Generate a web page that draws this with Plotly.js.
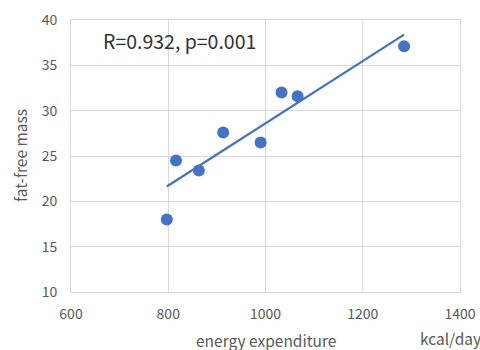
<!DOCTYPE html>
<html>
<head>
<meta charset="utf-8">
<script src="https://cdn.plot.ly/plotly-3.0.1.min.js"></script>
<style>html,body{margin:0;padding:0;background:#fff}#chart{width:480px;height:350px}</style>
</head>
<body>
<div id="chart"></div>
<script>
const energyExpenditure = [797, 816, 863, 913, 990, 1033, 1066, 1285];
const fatFreeMass = [18.0, 24.5, 23.4, 27.6, 26.5, 32.0, 31.6, 37.1];
const xTicks = [600, 800, 1000, 1200, 1400];
const yTicks = [10, 15, 20, 25, 30, 35, 40];
const statsLabel = "R=0.932, p=0.001";

// least-squares trend line from the data
const n = energyExpenditure.length;
const mx = energyExpenditure.reduce((a, b) => a + b, 0) / n;
const my = fatFreeMass.reduce((a, b) => a + b, 0) / n;
let sxy = 0, sxx = 0;
for (let i = 0; i < n; i++) {
  sxy += (energyExpenditure[i] - mx) * (fatFreeMass[i] - my);
  sxx += (energyExpenditure[i] - mx) ** 2;
}
const slope = sxy / sxx, icpt = my - slope * mx;
const xMin = Math.min(...energyExpenditure), xMax = Math.max(...energyExpenditure);
const trendX = [xMin, xMax];
const trendY = trendX.map(v => icpt + slope * v);

const font = "'Noto Sans CJK JP', 'Noto Sans', sans-serif";
const blue = "#4472C4";

Plotly.newPlot("chart", [
  {x: trendX, y: trendY, mode: "lines", line: {color: blue, width: 2.2}, hoverinfo: "skip"},
  {x: energyExpenditure, y: fatFreeMass, mode: "markers",
   marker: {symbol: "circle", size: 12, color: blue, line: {color: blue, width: 0}}}
], {
  width: 480, height: 350,
  margin: {l: 71, r: 20, t: 20, b: 58},
  showlegend: false,
  paper_bgcolor: "#fff", plot_bgcolor: "#fff",
  font: {family: font, color: "#595959", size: 14},
  xaxis: {range: [600, 1400], tickvals: xTicks, ticktext: xTicks.map(String),
          showgrid: true, gridcolor: "#d9d9d9", gridwidth: 1, zeroline: false,
          showline: true, linecolor: "#d9d9d9", mirror: true, ticks: "", ticklen: 0,
          ticklabelstandoff: 9,
          tickfont: {size: 14, color: "#595959"}},
  yaxis: {range: [10, 40], tickvals: yTicks, ticktext: yTicks.map(String),
          showgrid: true, gridcolor: "#d9d9d9", gridwidth: 1, zeroline: false,
          showline: true, linecolor: "#d9d9d9", mirror: true, ticks: "", ticklen: 0,
          ticklabelstandoff: 10,
          tickfont: {size: 14, color: "#595959"}},
  annotations: [
    {text: statsLabel, xref: "paper", yref: "paper", x: 0.078, y: 0.925, xanchor: "left", yanchor: "middle",
     showarrow: false, font: {size: 19.5, color: "#333", family: font}},
    {text: "energy expenditure", xref: "paper", yref: "paper", x: 0.5, y: -0.175, xanchor: "center", yanchor: "middle",
     showarrow: false, font: {size: 15.5, color: "#595959", family: font}},
    {text: "kcal/day", xref: "paper", yref: "paper", x: 1.06, y: -0.17, xanchor: "right", yanchor: "middle",
     showarrow: false, font: {size: 15.5, color: "#595959", family: font}},
    {text: "fat-free mass", xref: "paper", yref: "paper", x: -0.131, y: 0.5, xanchor: "center", yanchor: "middle",
     textangle: -90, showarrow: false, font: {size: 15.5, color: "#595959", family: font}}
  ]
}, {displayModeBar: false, staticPlot: true});
</script>
</body>
</html>
